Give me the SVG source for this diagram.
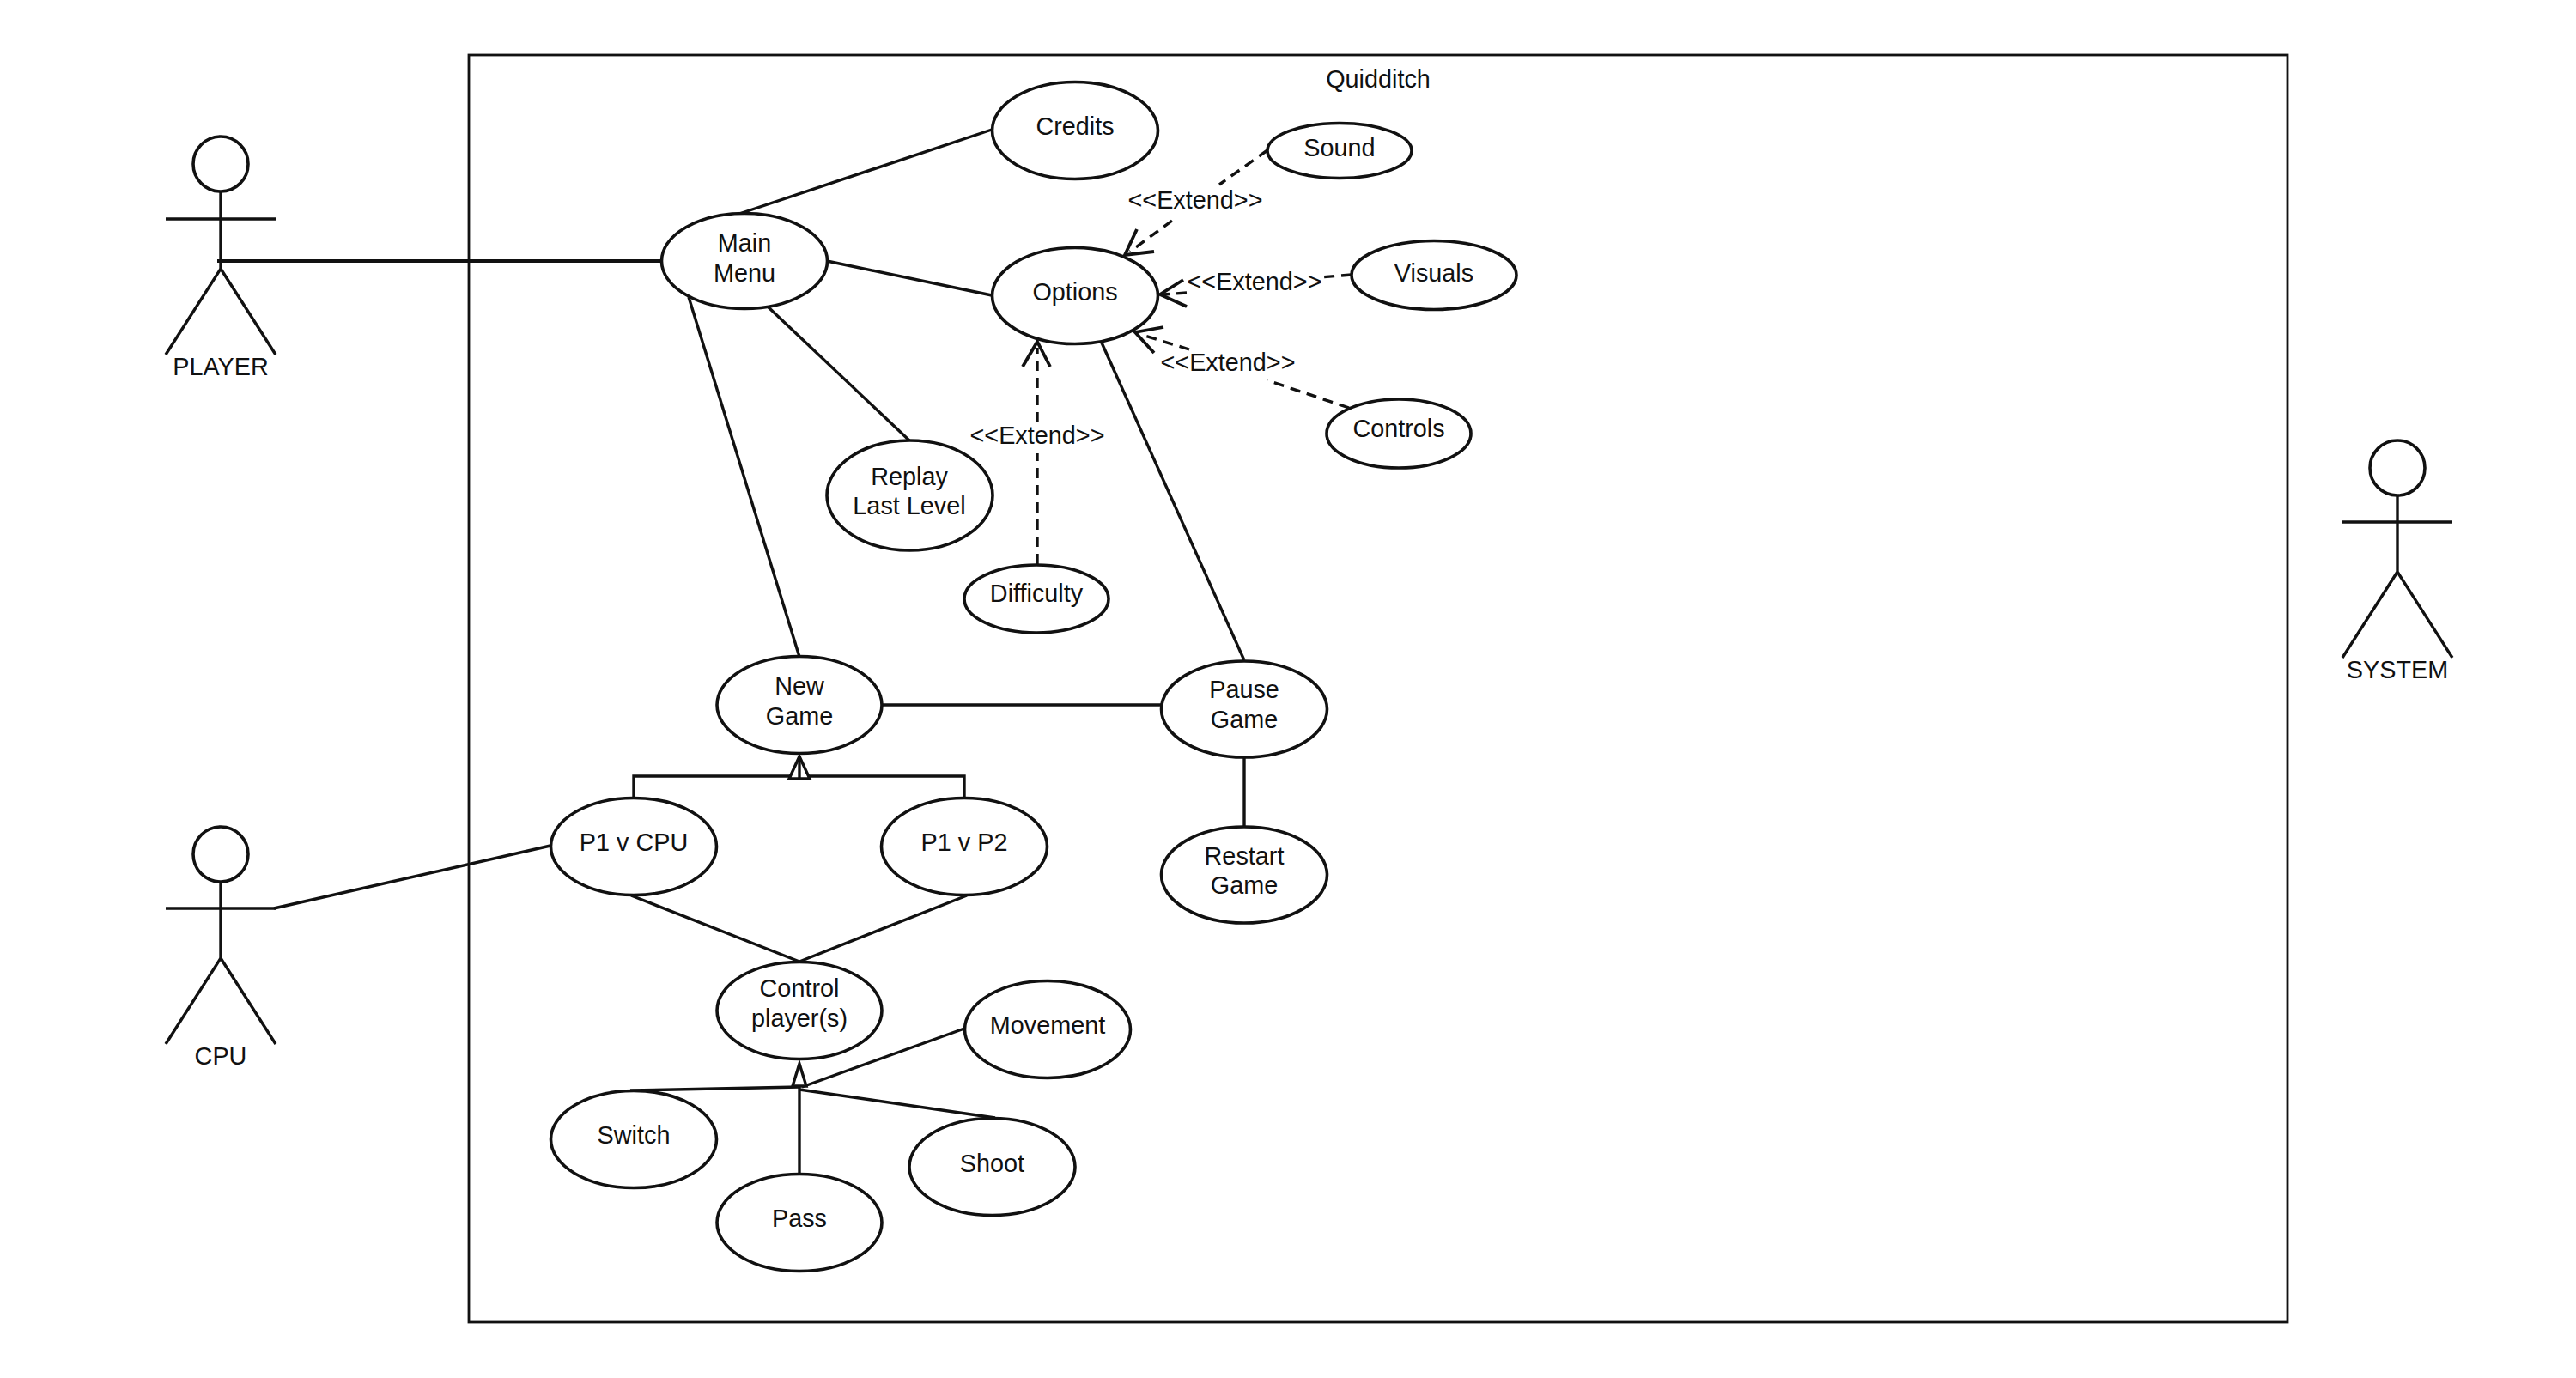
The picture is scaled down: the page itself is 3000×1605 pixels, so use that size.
<svg xmlns="http://www.w3.org/2000/svg" width="3000" height="1605" viewBox="0 0 3000 1605">
<style>
text{font-family:"Liberation Sans",Arial,sans-serif;font-size:28.800px;fill:#111;text-anchor:middle}
ellipse{fill:#fff;stroke:#111;stroke-width:3.6}
line,path,polyline{fill:none;stroke:#111;stroke-width:3.4}
.d{stroke-dasharray:12 8}
.a{stroke-width:3.8}
.t{fill:#fff;stroke-width:3.4}
</style>
<rect width="3000" height="1605" fill="#fff"/>
<g id="system-boundary"><rect x="546" y="64" width="2118" height="1476" fill="none" stroke="#111" stroke-width="2.8"/><text x="1605" y="102">Quidditch</text></g>
<g id="connectors">
<line x1="253" y1="304" x2="771" y2="304" style="stroke-width:4"/>
<line x1="861" y1="249" x2="1155" y2="151"/>
<line x1="963" y1="304" x2="1155" y2="344"/>
<line x1="895" y1="358" x2="1059" y2="513"/>
<line x1="802" y1="346" x2="931" y2="765"/>
<line x1="1282" y1="397" x2="1449" y2="769"/>
<line x1="1027" y1="821" x2="1352" y2="821"/>
<line x1="1449" y1="882" x2="1449" y2="963"/>
<polyline points="738,932 738,904 1123,904 1123,932"/>
<path class="t" d="M931 881L919 907H943Z"/><line x1="931" y1="881" x2="931" y2="907"/>
<line x1="735" y1="1043" x2="931" y2="1120"/>
<line x1="1126" y1="1043" x2="931" y2="1120"/>
<line x1="319" y1="1058" x2="641" y2="985"/>
<line x1="734" y1="1270" x2="931" y2="1266"/>
<line x1="934" y1="1266" x2="1123" y2="1198"/>
<line x1="931" y1="1269" x2="1159" y2="1302"/>
<line x1="931" y1="1266" x2="931" y2="1367"/>
<path class="t" d="M931 1239L923 1265H939Z"/>
<line class="d" x1="1476" y1="175" x2="1420" y2="215"/>
<line class="d" x1="1365" y1="257" x2="1316" y2="293"/>
<polyline class="a" points="1324,267 1310,297 1344,293"/>
<line class="d" x1="1574" y1="320" x2="1538" y2="323"/>
<line class="d" x1="1382" y1="341" x2="1355" y2="343"/>
<polyline class="a" points="1378,326 1351,343 1382,357"/>
<line class="d" x1="1571" y1="475" x2="1476" y2="443"/>
<line class="d" x1="1385" y1="407" x2="1330" y2="390"/>
<polyline class="a" points="1355,381 1322,387 1344,411"/>
<line class="d" x1="1208" y1="657" x2="1208" y2="528"/>
<line class="d" x1="1208" y1="492" x2="1208" y2="405"/>
<polyline class="a" points="1191,427 1208,398 1223,427"/>
</g>
<g id="label-extend-sound"><text x="1392" y="243">&lt;&lt;Extend&gt;&gt;</text></g>
<g id="label-extend-visuals"><text x="1461" y="338">&lt;&lt;Extend&gt;&gt;</text></g>
<g id="label-extend-controls"><text x="1430" y="432">&lt;&lt;Extend&gt;&gt;</text></g>
<g id="label-extend-difficulty"><text x="1208" y="517">&lt;&lt;Extend&gt;&gt;</text></g>
<g id="actor-player"><ellipse cx="257" cy="191" rx="32" ry="32"/><path d="M257 223V313M193 255H321M193 413L257 313L321 413"/><text x="257" y="437">PLAYER</text></g>
<g id="actor-cpu"><ellipse cx="257" cy="995" rx="32" ry="32"/><path d="M257 1027V1116M193 1058H321M193 1216L257 1116L321 1216"/><text x="257" y="1240">CPU</text></g>
<g id="actor-system"><ellipse cx="2792" cy="545" rx="32" ry="32"/><path d="M2792 577V666M2728 608H2856M2728 766L2792 666L2856 766"/><text x="2792" y="790">SYSTEM</text></g>
<g id="credits"><ellipse cx="1252" cy="152" rx="96.500" ry="56.500"/><text x="1252" y="157">Credits</text></g>
<g id="sound"><ellipse cx="1560" cy="175.500" rx="84" ry="32"/><text x="1560" y="182">Sound</text></g>
<g id="options"><ellipse cx="1252" cy="344.500" rx="96.500" ry="56"/><text x="1252" y="350">Options</text></g>
<g id="visuals"><ellipse cx="1670" cy="320.500" rx="96" ry="40"/><text x="1670" y="328">Visuals</text></g>
<g id="controls"><ellipse cx="1629" cy="505" rx="84" ry="40"/><text x="1629" y="509">Controls</text></g>
<g id="main-menu"><ellipse cx="867" cy="304" rx="96.500" ry="55.500"/><text x="867" y="293">Main</text><text x="867" y="328">Menu</text></g>
<g id="replay"><ellipse cx="1059.500" cy="577" rx="96.500" ry="64"/><text x="1059" y="565">Replay</text><text x="1059" y="599">Last Level</text></g>
<g id="difficulty"><ellipse cx="1207" cy="697.500" rx="84" ry="39.500"/><text x="1207" y="701">Difficulty</text></g>
<g id="new-game"><ellipse cx="931" cy="821" rx="96" ry="56.500"/><text x="931" y="809">New</text><text x="931" y="844">Game</text></g>
<g id="pause-game"><ellipse cx="1449" cy="826" rx="96.500" ry="56"/><text x="1449" y="813">Pause</text><text x="1449" y="848">Game</text></g>
<g id="restart-game"><ellipse cx="1449" cy="1019" rx="96.500" ry="56"/><text x="1449" y="1007">Restart</text><text x="1449" y="1041">Game</text></g>
<g id="p1-cpu"><ellipse cx="738" cy="986" rx="96.500" ry="56.500"/><text x="738" y="991">P1 v CPU</text></g>
<g id="p1-p2"><ellipse cx="1123" cy="986" rx="96.500" ry="56.500"/><text x="1123" y="991">P1 v P2</text></g>
<g id="control-players"><ellipse cx="931" cy="1177" rx="96" ry="56.500"/><text x="931" y="1161">Control</text><text x="931" y="1196">player(s)</text></g>
<g id="movement"><ellipse cx="1220" cy="1199" rx="96.500" ry="56.500"/><text x="1220" y="1204">Movement</text></g>
<g id="switch"><ellipse cx="738" cy="1327" rx="96.500" ry="56.500"/><text x="738" y="1332">Switch</text></g>
<g id="shoot"><ellipse cx="1155.500" cy="1359" rx="96.500" ry="56.500"/><text x="1155.500" y="1365">Shoot</text></g>
<g id="pass"><ellipse cx="931" cy="1424" rx="96" ry="56.500"/><text x="931" y="1429">Pass</text></g>
</svg>
